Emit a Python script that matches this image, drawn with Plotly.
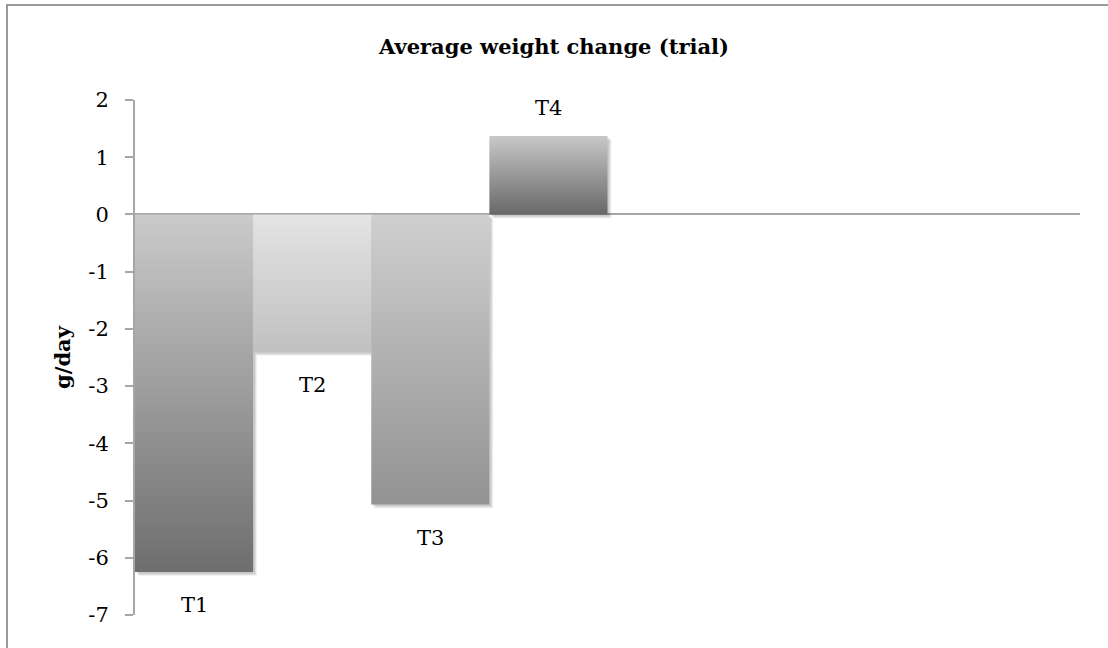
import plotly.graph_objects as go

# Average weight change per trial group (g/day)
categories = ["T1", "T2", "T3", "T4"]
values = [-6.25, -2.4, -5.07, 1.37]
n_slots = 8  # category slots on the horizontal axis
y_ticks = [2, 1, 0, -1, -2, -3, -4, -5, -6, -7]

# vertical gradient for each bar: (bottom colour, top colour)
bar_gradients = [
    ("#6e6e6e", "#cacaca"),
    ("#c0c0c0", "#e4e4e4"),
    ("#929292", "#cfcfcf"),
    ("#686868", "#c8c8c8"),
]

FONT = "DejaVu Serif"
GRID = "#a6a6a6"
FS = 21

# plot area size in pixels, used to convert shadow offsets into axis units
PLOT_W, PLOT_H = 945, 515
Y_MIN, Y_MAX = -7, 2
px_x = n_slots / PLOT_W
px_y = (Y_MAX - Y_MIN) / PLOT_H

fig = go.Figure()


def bar_outline(i, val, dx=0.0, dy=0.0):
    left, right = i - 0.5 + dx, i + 0.5 + dx
    return ([left, right, right, left, left],
            [dy, dy, val + dy, val + dy, dy])


# soft drop shadows, drawn first so bars sit on top
for i, val in enumerate(values):
    for k, alpha in ((4, 0.05), (3, 0.07), (2, 0.09)):
        xs, ys = bar_outline(i, val, dx=k * px_x, dy=-k * px_y if val < 0 else -k * px_y)
        fig.add_trace(go.Scatter(
            x=xs, y=ys, mode="lines", line=dict(width=0),
            fill="toself", fillcolor=f"rgba(0,0,0,{alpha})",
            hoverinfo="skip", showlegend=False,
        ))

for i, (cat, val) in enumerate(zip(categories, values)):
    bottom, top = bar_gradients[i]
    xs, ys = bar_outline(i, val)
    fig.add_trace(go.Scatter(
        x=xs, y=ys,
        mode="lines",
        line=dict(width=0),
        fill="toself",
        fillgradient=dict(type="vertical", colorscale=[[0, bottom], [1, top]]),
        name=cat,
        hoverinfo="skip",
        showlegend=False,
    ))
    fig.add_annotation(
        x=i, y=val, text=cat, showarrow=False,
        yshift=-33 if val < 0 else 28,
        font=dict(family=FONT, size=FS, color="#000000"),
    )

fig.update_layout(
    width=1108, height=648,
    margin=dict(l=135, r=28, t=100, b=33),
    paper_bgcolor="white", plot_bgcolor="white",
    title=dict(
        text="<b>Average weight change (trial)</b>",
        x=0.5, xref="container", xanchor="center",
        y=1 - 47 / 648, yref="container", yanchor="middle",
        font=dict(family=FONT, size=FS, color="#000000"),
    ),
    xaxis=dict(
        range=[-0.5, n_slots - 0.5], visible=False, fixedrange=True,
    ),
    yaxis=dict(
        range=[Y_MIN, Y_MAX], tickvals=y_ticks, ticktext=[str(t) for t in y_ticks],
        showgrid=False, zeroline=True, zerolinecolor=GRID, zerolinewidth=2,
        showline=True, linecolor=GRID, linewidth=2,
        ticks="outside", ticklen=8, tickcolor=GRID, tickwidth=2,
        ticklabelstandoff=12,
        tickfont=dict(family=FONT, size=FS, color="#000000"),
        title=dict(text="<b>g/day</b>", standoff=12,
                   font=dict(family=FONT, size=FS, color="#000000")),
    ),
    shapes=[dict(
        type="rect", xref="paper", yref="paper",
        x0=(7 - 135) / PLOT_W, x1=1.2, y0=-0.2, y1=1 + (100 - 5) / PLOT_H,
        line=dict(color="#9a9a9a", width=2), fillcolor="rgba(0,0,0,0)",
        layer="below",
    )],
)

fig.write_html("out.html")
